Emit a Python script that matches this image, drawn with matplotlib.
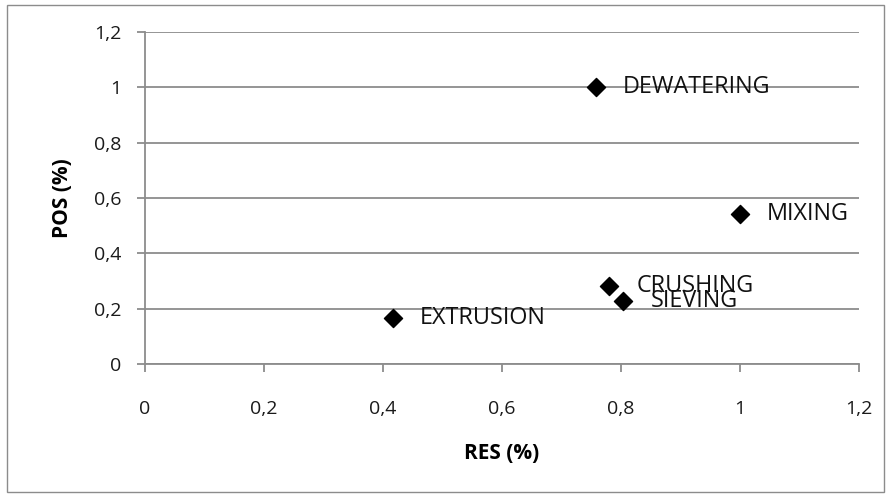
import matplotlib
matplotlib.use("Agg")
import matplotlib.pyplot as plt
from matplotlib.patches import Rectangle
from matplotlib.ticker import FixedLocator, FuncFormatter

# Process steps, RES vs POS shares
steps = ["DEWATERING", "MIXING", "CRUSHING", "SIEVING", "EXTRUSION"]
res = [0.758, 1.0, 0.780, 0.804, 0.416]
pos = [1.0, 0.541, 0.283, 0.229, 0.165]
ticks = [0, 0.2, 0.4, 0.6, 0.8, 1.0, 1.2]

plt.rcParams["font.family"] = ["Open Sans", "DejaVu Sans"]

fig = plt.figure(figsize=(8.92, 5.0), dpi=100)
W, H = 892, 500
ax = fig.add_axes([145 / W, 1 - 364 / H, 714 / W, 332 / H])

grid_c = "#8c8c8c"
ax.set_xlim(0, 1.2)
ax.set_ylim(0, 1.2)
ax.xaxis.set_major_locator(FixedLocator(ticks))
ax.yaxis.set_major_locator(FixedLocator(ticks))

def comma(v, _):
    s = f"{v:.1f}".rstrip("0").rstrip(".")
    return s.replace(".", ",")

ax.xaxis.set_major_formatter(FuncFormatter(comma))
ax.yaxis.set_major_formatter(FuncFormatter(comma))

ax.grid(axis="y", color=grid_c, linewidth=1.3)
ax.set_axisbelow(True)
for side in ("top", "right"):
    ax.spines[side].set_visible(False)
for side in ("left", "bottom"):
    ax.spines[side].set_color(grid_c)
    ax.spines[side].set_linewidth(1.3)
ax.tick_params(axis="both", direction="out", length=5.8, width=1.3,
               color=grid_c, labelsize=14, labelcolor="#1a1a1a")
ax.tick_params(axis="x", pad=20)
ax.tick_params(axis="y", pad=11)

ax.scatter(res, pos, marker="D", s=85, color="black", zorder=3, clip_on=False)
for name, x, y in zip(steps, res, pos):
    ax.annotate(name, (x, y), xytext=(19.5, 0), textcoords="offset points",
                va="center", ha="left", fontsize=16.8, color="#111111")

ax.set_xlabel("RES (%)", fontsize=15, fontweight="bold")
ax.set_ylabel("POS (%)", fontsize=15, fontweight="bold")
ax.xaxis.set_label_coords(0.5, (364 - 443) / 332)
ax.yaxis.set_label_coords((73 - 145) / 714, 0.5)

# outer chart frame
fig.patches.append(Rectangle((7 / W, 8 / H), 877 / W, 487 / H,
                             transform=fig.transFigure, fill=False,
                             edgecolor="#8c8c8c", linewidth=1.0))

fig.savefig("out.png", dpi=100)
